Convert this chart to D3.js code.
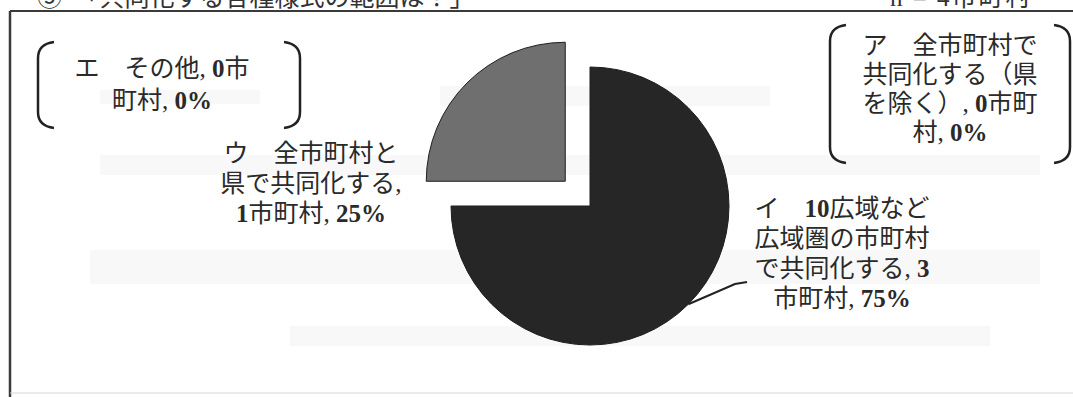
<!DOCTYPE html>
<html lang="ja">
<head>
<meta charset="utf-8">
<script src="https://cdn.jsdelivr.net/npm/d3@7"></script>
<style>
  html, body { margin: 0; padding: 0; background: #fff; }
  svg { display: block; }
</style>
</head>
<body>
<svg id="chart" width="1073" height="397"></svg>
<script>
// Survey answers: scope of the joint arrangement (n = 4 municipalities)
const categories = [
  "ア　全市町村で共同化する（県を除く）",
  "イ　10広域など広域圏の市町村で共同化する",
  "ウ　全市町村と県で共同化する",
  "エ　その他"
];
const counts = [0, 3, 1, 0];
const percents = [0, 75, 25, 0];
const sliceColors = ["#9a9a9a", "#262626", "#6f6f6f", "#bdbdbd"];
const headingLeft = "⑤　「共同化する各種様式の範囲は？」";
const headingRight = "n = 4市町村";

// Label layout: line break positions, anchor, line spacing, bracket box
const labelLayout = [
  { breaks: [7, 14, 23], x: 950, y: 54, lh: 29, bracket: [830, 25, 1070, 163] },
  { breaks: [8, 15, 24], x: 842, y: 217, lh: 30, leader: true },
  { breaks: [7, 15], x: 311, y: 162, lh: 30 },
  { breaks: [9], x: 162, y: 77, lh: 32, bracket: [38, 42, 300, 128] }
];

const svg = d3.select("#chart");
const W = 1073, H = 397;
const cx = 590, cy = 206, R = 139;
const FONT = "'Liberation Serif', 'Noto Sans CJK JP', serif";
const FS = 25;

// faint paper texture bands
const bands = [[440, 86, 330, 20], [100, 155, 940, 20], [90, 250, 950, 34], [290, 326, 700, 20], [100, 90, 160, 14]];
svg.append("g").selectAll("rect").data(bands).join("rect")
  .attr("x", d => d[0]).attr("y", d => d[1]).attr("width", d => d[2]).attr("height", d => d[3])
  .attr("fill", "#f8f8f8");

// frame
svg.append("line").attr("x1", 10).attr("x2", W).attr("y1", 11).attr("y2", 11)
  .attr("stroke", "#3a3a3a").attr("stroke-width", 2);
svg.append("line").attr("x1", 10).attr("x2", 10).attr("y1", 11).attr("y2", H)
  .attr("stroke", "#3a3a3a").attr("stroke-width", 2.5);
svg.append("line").attr("x1", 10).attr("x2", W).attr("y1", 393).attr("y2", 393)
  .attr("stroke", "#d6d6d6").attr("stroke-width", 1);

// heading (runs off the top of the frame)
svg.append("text").attr("x", 37).attr("y", 6).attr("font-family", FONT)
  .attr("font-size", FS).attr("fill", "#333").text(headingLeft);
svg.append("text").attr("x", 890).attr("y", 6).attr("font-family", FONT)
  .attr("font-size", FS).attr("letter-spacing", 2).attr("fill", "#333").text(headingRight);

// pie
const data = categories.map((c, i) => ({ name: c, count: counts[i], pct: percents[i], i }));
const pie = d3.pie().sort(null).value(d => d.count).startAngle(0).endAngle(2 * Math.PI);
const arcs = pie(data);
const arc = d3.arc().innerRadius(0).outerRadius(R);
const explode = [0, 0, 35, 0];

const g = svg.append("g").attr("transform", `translate(${cx},${cy})`);
g.selectAll("path").data(arcs.filter(a => a.data.count > 0)).join("path")
  .attr("transform", a => {
    const m = (a.startAngle + a.endAngle) / 2;
    const e = explode[a.data.i];
    return `translate(${e * Math.sin(m)},${-e * Math.cos(m)})`;
  })
  .attr("d", arc)
  .attr("fill", a => sliceColors[a.data.i])
  .attr("stroke", "#1e1e1e").attr("stroke-width", 1);

// labels
const lines = data.map((d, i) => {
  const full = `${d.name}, ${d.count}市町村, ${d.pct}%`;
  const br = [0, ...labelLayout[i].breaks, full.length];
  const out = [];
  for (let k = 0; k < br.length - 1; k++) out.push(full.slice(br[k], br[k + 1]).trim());
  return out;
});

const labelG = svg.append("g").attr("font-family", FONT).attr("font-size", FS).attr("fill", "#2a2a2a");
data.forEach((d, i) => {
  const L = labelLayout[i];
  const t = labelG.append("text").attr("text-anchor", "middle");
  lines[i].forEach((ln, k) => {
    const line = t.append("tspan").attr("x", L.x).attr("y", L.y + k * L.lh);
    ln.split(/(\d+%?)/).filter(s => s.length).forEach(part => {
      line.append("tspan").attr("font-weight", /^\d/.test(part) ? "bold" : null).text(part);
    });
  });

  if (L.bracket) {
    const [x0, y0, x1, y1] = L.bracket;
    const c = 16;
    const br = labelG.append("g").attr("fill", "none").attr("stroke", "#222").attr("stroke-width", 2.5);
    br.append("path").attr("d", `M${x0 + c},${y0} Q${x0},${y0 + 2} ${x0},${y0 + c} L${x0},${y1 - c} Q${x0},${y1 - 2} ${x0 + c},${y1}`);
    br.append("path").attr("d", `M${x1 - c},${y0} Q${x1},${y0 + 2} ${x1},${y0 + c} L${x1},${y1 - c} Q${x1},${y1 - 2} ${x1 - c},${y1}`);
  }

  if (L.leader) {
    const a = arcs[i];
    const m = (a.startAngle + a.endAngle) / 2;
    const p0 = [cx + R * Math.sin(m), cy - R * Math.cos(m)];
    const tx = L.x - 95, ty = L.y + 2 * L.lh + 5;
    svg.append("path")
      .attr("d", d3.line()([p0, [tx - 12, ty + 2], [tx, ty]]))
      .attr("fill", "none").attr("stroke", "#222").attr("stroke-width", 2);
  }
});
</script>
</body>
</html>
